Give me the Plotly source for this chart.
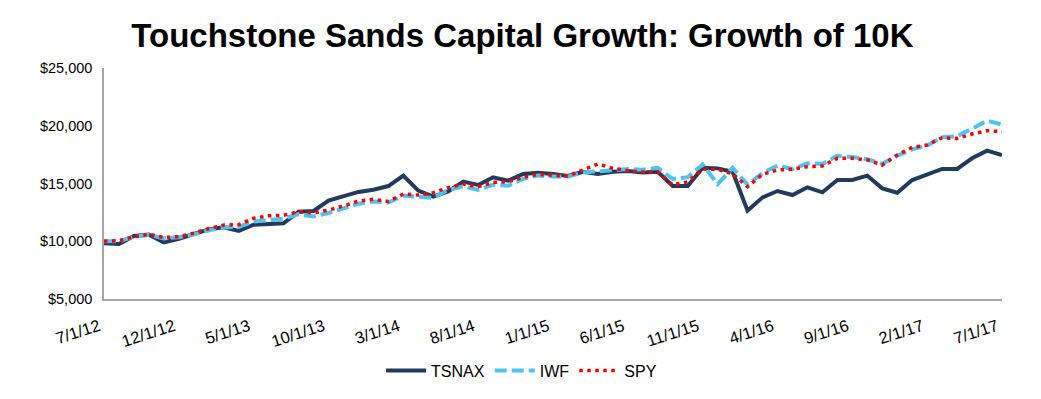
import plotly.graph_objects as go
import pandas as pd

dates = pd.date_range("2012-07-01", "2017-07-01", freq="MS")
labels = [f"{d.month}/{d.day}/{d.year % 100}" for d in dates]

tsnax = [9830, 9760, 10450, 10570, 9900, 10220, 10630, 11030, 11200, 10890,
         11430, 11490, 11550, 12560, 12620, 13520, 13920, 14270, 14460, 14780,
         15680, 14380, 13860, 14320, 15160, 14870, 15540, 15250, 15820, 15940,
         15820, 15650, 16020, 15820, 16020, 16080, 15960, 16020, 14780, 14780,
         16370, 16310, 16020, 12650, 13800, 14350, 14000, 14670, 14240, 15300,
         15300, 15680, 14580, 14200, 15300, 15740, 16260, 16260, 17180, 17840,
         17470]
iwf = [10000, 10000, 10400, 10550, 10250, 10350, 10600, 10950, 11200, 11250,
       11700, 11850, 11950, 12350, 12150, 12450, 12850, 13250, 13450, 13350,
       13950, 13850, 13750, 14450, 14750, 14450, 14900, 14800, 15400, 15700,
       15600, 15600, 15950, 16050, 16150, 16250, 16200, 16350, 15400, 15550,
       16650, 14950, 16350, 14900, 15900, 16550, 16250, 16750, 16700, 17400,
       17300, 17100, 16700, 17400, 17950, 18300, 19000, 19100, 19750, 20450,
       20100]
spy = [10000, 10050, 10400, 10600, 10320, 10400, 10700, 11100, 11400, 11430,
       11990, 12200, 12250, 12560, 12450, 12700, 13050, 13480, 13630, 13450,
       14090, 14000, 14200, 14640, 14960, 14720, 15100, 15150, 15540, 15800,
       15700, 15650, 16170, 16690, 16310, 16110, 16000, 16020, 14870, 15150,
       16250, 16220, 15850, 14720, 15800, 16170, 16230, 16460, 16520, 17180,
       17180, 17040, 16600, 17470, 18130, 18330, 18960, 18900, 19290, 19570,
       19490]

tick_idx = list(range(0, 61, 5))
tick_text = [labels[i] for i in tick_idx]
y_ticks = [5000, 10000, 15000, 20000, 25000]
y_text = ["$5,000", "$10,000", "$15,000", "$20,000", "$25,000"]

xs = list(range(len(labels)))

fig = go.Figure()
fig.add_trace(go.Scatter(x=xs, y=tsnax, name="TSNAX", mode="lines",
                         line=dict(color="#213B5E", width=4)))
fig.add_trace(go.Scatter(x=xs, y=iwf, name="IWF", mode="lines",
                         line=dict(color="#4CC3F0", width=4, dash="12px,5px")))
fig.add_trace(go.Scatter(x=xs, y=spy, name="SPY", mode="lines",
                         line=dict(color="#FF0000", width=3.5, dash="3.5px,4.5px")))

fig.update_layout(
    width=1033, height=391,
    margin=dict(l=96, r=39, t=60, b=100),
    paper_bgcolor="white", plot_bgcolor="white",
    font=dict(family="Liberation Sans, Arial, sans-serif", color="black"),
    title=dict(text="<b>Touchstone Sands Capital Growth: Growth of 10K</b>",
               x=0.498, xanchor="center", y=0.929, yanchor="middle",
               font=dict(size=33, color="black")),
    showlegend=True,
    legend=dict(orientation="h", x=0.465, xanchor="center", y=-0.31, yanchor="middle",
                font=dict(size=16), itemwidth=40, tracegroupgap=0),
    xaxis=dict(range=[0, 60], tickmode="array", tickvals=tick_idx, ticktext=tick_text,
               tickangle=-18, tickfont=dict(size=16.5), showgrid=False, zeroline=False,
               showline=True, linecolor="#A6A6A6", linewidth=1.5, ticks="",
               ticklabelshift=-5, ticklabelstandoff=10, automargin=False),
    yaxis=dict(range=[5000, 25000], tickmode="array", tickvals=y_ticks, ticktext=y_text,
               tickfont=dict(size=14.5), showgrid=False, zeroline=False,
               showline=True, linecolor="#A6A6A6", linewidth=1.5, ticks="",
               ticklabelstandoff=7, automargin=False),
)

fig.write_html("out.html")
